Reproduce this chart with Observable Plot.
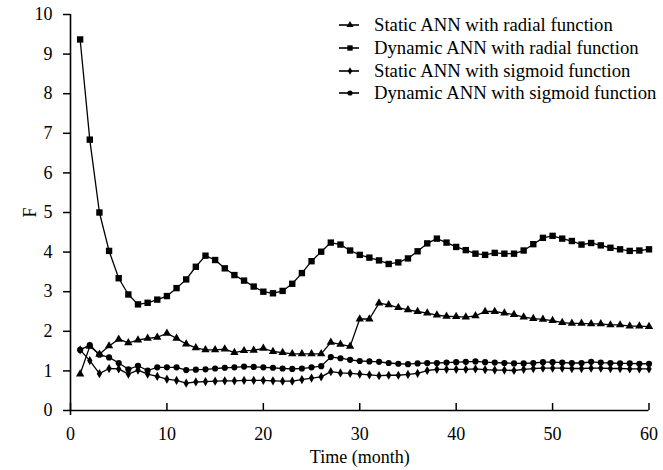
<!DOCTYPE html>
<html>
<head>
<meta charset="utf-8">
<script src="https://cdn.jsdelivr.net/npm/d3@7"></script>
<script src="https://cdn.jsdelivr.net/npm/@observablehq/plot@0.6"></script>
<style>
  html, body { margin: 0; padding: 0; background: #fff; }
  #wrap { position: relative; width: 663px; height: 470px; font-family: "Liberation Serif", "Times New Roman", serif; }
  #legend { position: absolute; left: 337px; top: 14px; font-size: 18.7px; color: #000; }
  .row { display: flex; align-items: center; height: 22.7px; white-space: nowrap; }
  .row svg { margin-right: 13px; }
</style>
</head>
<body>
<div id="wrap"><div id="legend"></div></div>
<script>
const months = d3.range(1, 61);
const staticRadial = [0.92,1.62,1.42,1.63,1.80,1.71,1.78,1.82,1.85,1.95,1.82,1.68,1.58,1.53,1.53,1.55,1.46,1.51,1.52,1.57,1.49,1.46,1.43,1.43,1.43,1.43,1.72,1.67,1.62,2.31,2.31,2.71,2.67,2.60,2.54,2.50,2.46,2.41,2.38,2.37,2.36,2.39,2.50,2.50,2.46,2.42,2.36,2.32,2.30,2.27,2.22,2.20,2.20,2.19,2.19,2.16,2.16,2.13,2.13,2.12];
const dynamicRadial = [9.37,6.84,5.00,4.03,3.34,2.93,2.68,2.72,2.80,2.89,3.09,3.31,3.63,3.91,3.80,3.59,3.42,3.28,3.13,3.00,2.96,3.02,3.20,3.47,3.77,4.01,4.24,4.19,4.04,3.93,3.86,3.79,3.70,3.74,3.84,4.02,4.22,4.34,4.24,4.13,4.05,3.96,3.93,3.98,3.96,3.96,4.04,4.20,4.36,4.41,4.34,4.28,4.19,4.23,4.17,4.11,4.07,4.03,4.04,4.07];
const staticSigmoid = [1.53,1.26,0.93,1.06,1.05,0.92,1.02,0.92,0.86,0.79,0.76,0.69,0.72,0.73,0.74,0.75,0.75,0.76,0.76,0.76,0.75,0.74,0.74,0.78,0.82,0.85,0.98,0.95,0.94,0.92,0.90,0.88,0.89,0.89,0.91,0.94,1.01,1.04,1.04,1.04,1.04,1.05,1.03,1.02,1.02,1.01,1.04,1.06,1.07,1.07,1.07,1.06,1.06,1.07,1.07,1.06,1.06,1.05,1.05,1.05];
const dynamicSigmoid = [1.53,1.65,1.41,1.34,1.20,1.04,1.13,1.01,1.09,1.09,1.09,1.02,1.03,1.04,1.06,1.08,1.09,1.11,1.10,1.09,1.08,1.06,1.05,1.06,1.09,1.12,1.35,1.32,1.28,1.25,1.24,1.23,1.20,1.18,1.17,1.19,1.20,1.20,1.21,1.22,1.23,1.24,1.22,1.21,1.20,1.19,1.19,1.20,1.22,1.22,1.21,1.20,1.20,1.23,1.21,1.20,1.19,1.19,1.18,1.18];
const seriesNames = ["Static ANN with radial function","Dynamic ANN with radial function","Static ANN with sigmoid function","Dynamic ANN with sigmoid function"];
const seriesSymbols = ["triangle","square","diamond","circle"];
const seriesR = [3.1, 3.6, 2.8, 3.1];
const xTicks = [0,10,20,30,40,50,60];
const yTicks = [0,1,2,3,4,5,6,7,8,9,10];

const allValues = [staticRadial, dynamicRadial, staticSigmoid, dynamicSigmoid];
const seriesData = allValues.map((vals, i) => months.map((m, j) => ({t: m, v: vals[j], s: seriesNames[i]})));

const marks = [
  Plot.axisY({ticks: yTicks, tickSize: 7, tickPadding: 11, label: null, strokeWidth: 1.5}),
  Plot.axisX({ticks: xTicks, tickSize: -7, tickPadding: 24, label: null, strokeWidth: 1.5}),
  Plot.ruleX([0], {strokeWidth: 1.6, insetBottom: -5}),
  Plot.ruleY([0], {strokeWidth: 1.6}),
  Plot.text(["F"], {frameAnchor: "left", text: d => d, rotate: -90, dx: -40, textAnchor: "middle", lineAnchor: "middle"}),
  Plot.text(["Time (month)"], {frameAnchor: "bottom", text: d => d, dy: 47, textAnchor: "middle", lineAnchor: "middle"})
];
seriesData.forEach((d, i) => {
  marks.push(Plot.line(d, {x: "t", y: "v", stroke: "black", strokeWidth: 1.3}));
  marks.push(Plot.dot(d, {x: "t", y: "v", symbol: seriesSymbols[i], r: seriesR[i], fill: "black", stroke: "none"}));
});

const chart = Plot.plot({
  width: 663, height: 470,
  marginLeft: 70, marginRight: 14.5, marginTop: 14, marginBottom: 60,
  style: {fontFamily: "'Liberation Serif', 'Times New Roman', serif", fontSize: "18px", color: "#000", background: "#fff", overflow: "visible"},
  x: {domain: [0, 60]},
  y: {domain: [0, 10]},
  marks
});
document.getElementById("wrap").prepend(chart);

const legend = document.getElementById("legend");
const symMap = {triangle: d3.symbolTriangle, square: d3.symbolSquare, diamond: d3.symbolDiamond, circle: d3.symbolCircle};
seriesNames.forEach((name, i) => {
  const row = document.createElement("div");
  row.className = "row";
  const size = seriesR[i] * seriesR[i] * Math.PI * 0.7;
  const path = d3.symbol(symMap[seriesSymbols[i]], size)();
  row.innerHTML = `<svg width="24" height="12"><line x1="2" x2="22" y1="6" y2="6" stroke="black" stroke-width="1.6"/><path d="${path}" transform="translate(13,6)" fill="black"/></svg><span>${name}</span>`;
  legend.appendChild(row);
});
</script>
</body>
</html>
